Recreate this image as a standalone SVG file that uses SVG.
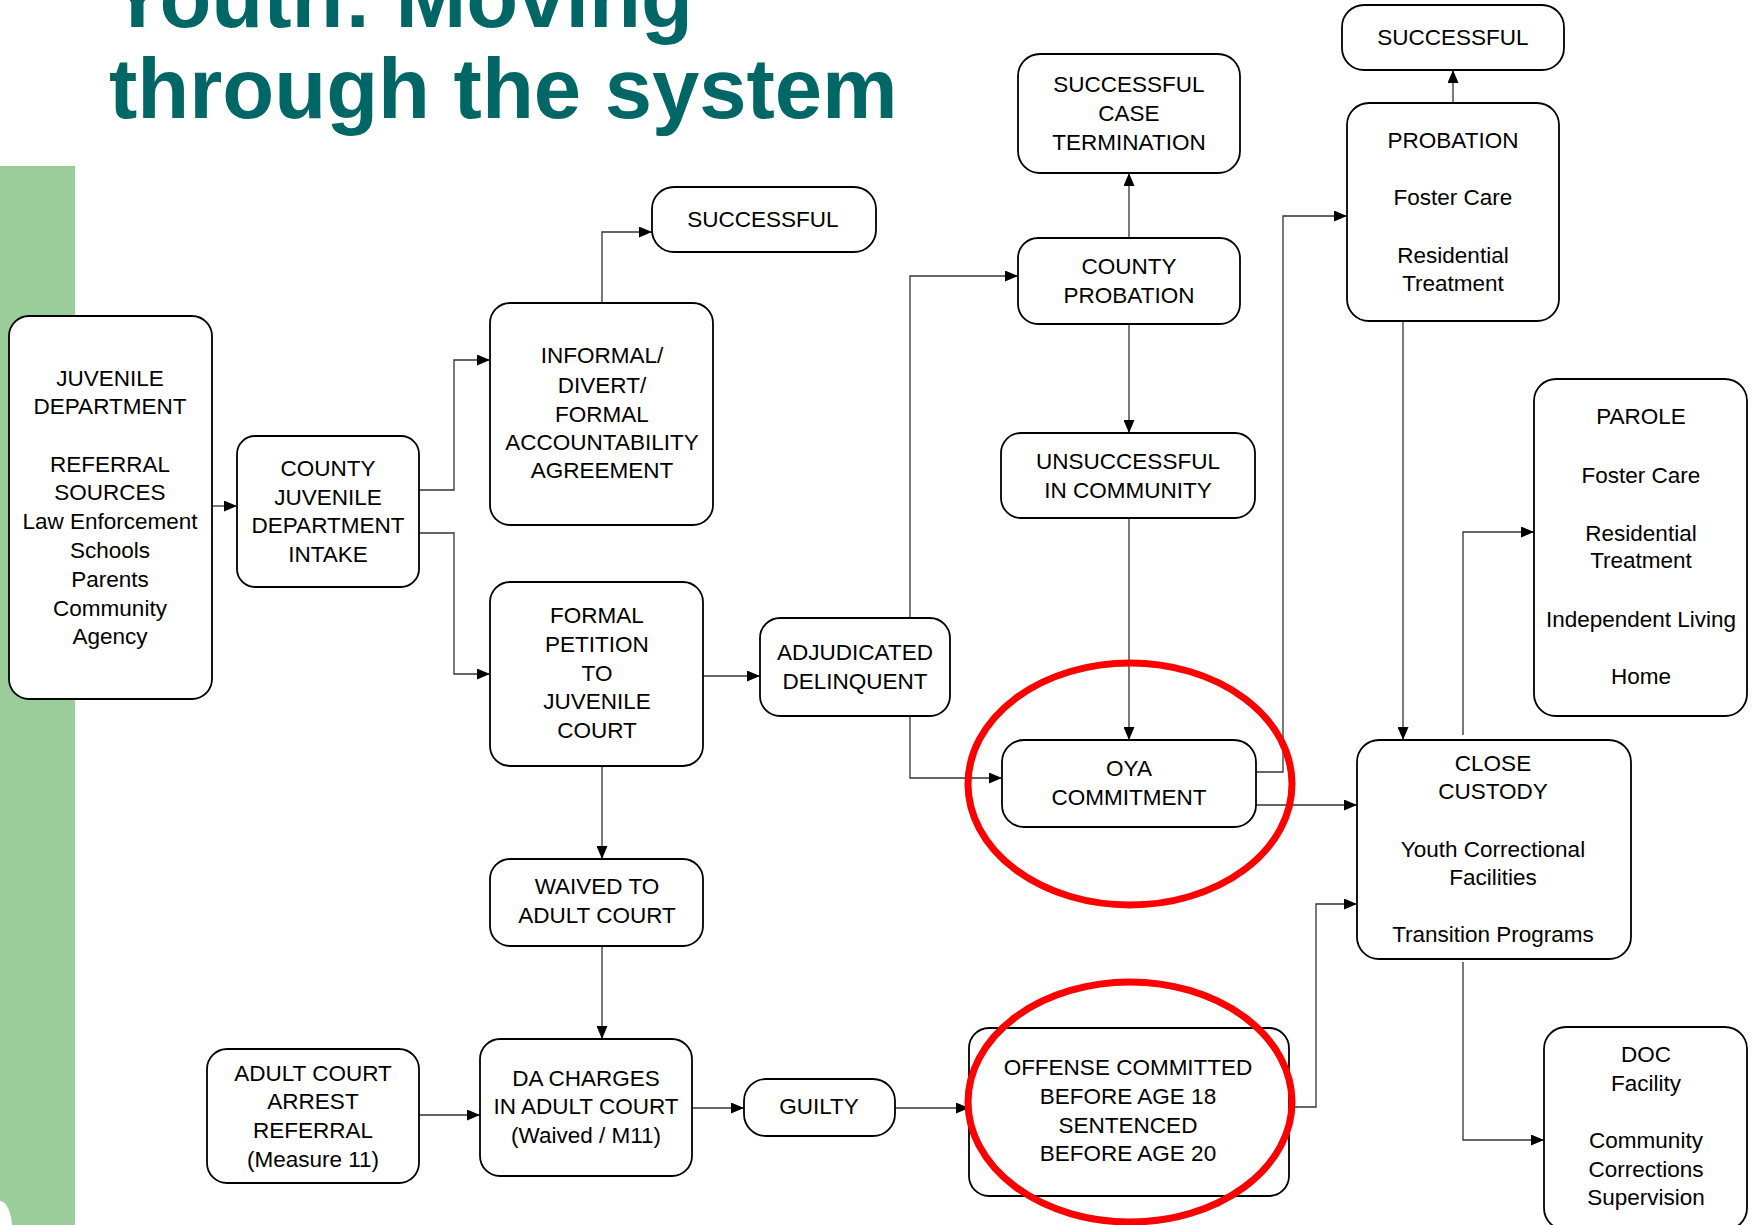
<svg xmlns="http://www.w3.org/2000/svg" width="1758" height="1225" viewBox="0 0 1758 1225">
<defs>
<style>
.box{fill:#fff;stroke:#000;stroke-width:1.8}
.t{font-family:"Liberation Sans",Arial,sans-serif;font-size:22.5px;fill:#000;text-anchor:middle}
.c{fill:none;stroke:#333;stroke-width:1.3}
.ring{fill:none;stroke:#f00;stroke-width:7}
.title{font-family:"Liberation Sans",Arial,sans-serif;font-weight:bold;font-size:85px;fill:#006666}
</style>
<marker id="ah" viewBox="0 0 13 11" refX="13" refY="5.5" markerWidth="13" markerHeight="11" markerUnits="userSpaceOnUse" orient="auto">
<path d="M0,0 L13,5.5 L0,11 z" fill="#000"/>
</marker>
</defs>
<rect width="1758" height="1225" fill="#fff"/>
<rect x="0" y="166" width="75" height="1059" fill="#9ACD99"/>
<ellipse cx="0" cy="1228" rx="12" ry="27" fill="#fff"/>
<g id="title">
<text class="title" x="109" y="27">Youth: Moving</text>
<text class="title" x="109" y="118">through the system</text>
</g>
<g id="connectors">
<path class="c" marker-end="url(#ah)" d="M212,506 H237"/>
<path class="c" marker-end="url(#ah)" d="M419,490 H454 V360 H490"/>
<path class="c" marker-end="url(#ah)" d="M419,533 H454 V674 H490"/>
<path class="c" marker-end="url(#ah)" d="M602,303 V232 H652"/>
<path class="c" marker-end="url(#ah)" d="M703,676 H760"/>
<path class="c" marker-end="url(#ah)" d="M602,766 V859"/>
<path class="c" marker-end="url(#ah)" d="M602,946 V1039"/>
<path class="c" marker-end="url(#ah)" d="M419,1115 H480"/>
<path class="c" marker-end="url(#ah)" d="M692,1108 H744"/>
<path class="c" marker-end="url(#ah)" d="M895,1108 H969"/>
<path class="c" marker-end="url(#ah)" d="M910,618 V276 H1018"/>
<path class="c" marker-end="url(#ah)" d="M910,716 V778 H1002"/>
<path class="c" marker-end="url(#ah)" d="M1129,238 V173"/>
<path class="c" marker-end="url(#ah)" d="M1129,324 V433"/>
<path class="c" marker-end="url(#ah)" d="M1129,518 V740"/>
<path class="c" marker-end="url(#ah)" d="M1256,772 H1283 V216 H1347"/>
<path class="c" marker-end="url(#ah)" d="M1256,805 H1357"/>
<path class="c" marker-end="url(#ah)" d="M1453,103 V70"/>
<path class="c" marker-end="url(#ah)" d="M1403,321 V740"/>
<path class="c" marker-end="url(#ah)" d="M1463,735 V532 H1534"/>
<path class="c" marker-end="url(#ah)" d="M1289,1107 H1316 V904 H1357"/>
<path class="c" marker-end="url(#ah)" d="M1463,962 V1140 H1544"/>
</g>
<g id="juvenile-department">
<rect class="box" x="9" y="316" width="203" height="383" rx="20"/>
<text class="t"><tspan x="110" y="386">JUVENILE</tspan><tspan x="110" y="414">DEPARTMENT</tspan><tspan x="110" y="472">REFERRAL</tspan><tspan x="110" y="500">SOURCES</tspan><tspan x="110" y="529">Law Enforcement</tspan><tspan x="110" y="558">Schools</tspan><tspan x="110" y="587">Parents</tspan><tspan x="110" y="616">Community</tspan><tspan x="110" y="644">Agency</tspan></text>
</g>
<g id="county-intake">
<rect class="box" x="237" y="436" width="182" height="151" rx="18"/>
<text class="t"><tspan x="328" y="476">COUNTY</tspan><tspan x="328" y="505">JUVENILE</tspan><tspan x="328" y="533">DEPARTMENT</tspan><tspan x="328" y="562">INTAKE</tspan></text>
</g>
<g id="informal">
<rect class="box" x="490" y="303" width="223" height="222" rx="20"/>
<text class="t"><tspan x="602" y="363">INFORMAL/</tspan><tspan x="602" y="393">DIVERT/</tspan><tspan x="602" y="422">FORMAL</tspan><tspan x="602" y="450">ACCOUNTABILITY</tspan><tspan x="602" y="478">AGREEMENT</tspan></text>
</g>
<g id="successful-1">
<rect class="box" x="652" y="187" width="224" height="65" rx="22"/>
<text class="t" x="763" y="227">SUCCESSFUL</text>
</g>
<g id="formal-petition">
<rect class="box" x="490" y="582" width="213" height="184" rx="20"/>
<text class="t"><tspan x="597" y="623">FORMAL</tspan><tspan x="597" y="652">PETITION</tspan><tspan x="597" y="681">TO</tspan><tspan x="597" y="709">JUVENILE</tspan><tspan x="597" y="738">COURT</tspan></text>
</g>
<g id="adjudicated">
<rect class="box" x="760" y="618" width="190" height="98" rx="20"/>
<text class="t"><tspan x="855" y="660">ADJUDICATED</tspan><tspan x="855" y="689">DELINQUENT</tspan></text>
</g>
<g id="waived">
<rect class="box" x="490" y="859" width="213" height="87" rx="20"/>
<text class="t"><tspan x="597" y="894">WAIVED TO</tspan><tspan x="597" y="923">ADULT COURT</tspan></text>
</g>
<g id="adult-court-arrest">
<rect class="box" x="207" y="1049" width="212" height="134" rx="20"/>
<text class="t"><tspan x="313" y="1081">ADULT COURT</tspan><tspan x="313" y="1109">ARREST</tspan><tspan x="313" y="1138">REFERRAL</tspan><tspan x="313" y="1167">(Measure 11)</tspan></text>
</g>
<g id="da-charges">
<rect class="box" x="480" y="1039" width="212" height="137" rx="20"/>
<text class="t"><tspan x="586" y="1086">DA CHARGES</tspan><tspan x="586" y="1114">IN ADULT COURT</tspan><tspan x="586" y="1143">(Waived / M11)</tspan></text>
</g>
<g id="guilty">
<rect class="box" x="744" y="1079" width="151" height="57" rx="22"/>
<text class="t" x="819" y="1114">GUILTY</text>
</g>
<g id="offense">
<rect class="box" x="969" y="1028" width="320" height="168" rx="20"/>
<text class="t"><tspan x="1128" y="1075">OFFENSE COMMITTED</tspan><tspan x="1128" y="1104">BEFORE AGE 18</tspan><tspan x="1128" y="1133">SENTENCED</tspan><tspan x="1128" y="1161">BEFORE AGE 20</tspan></text>
</g>
<g id="successful-case-termination">
<rect class="box" x="1018" y="54" width="222" height="119" rx="22"/>
<text class="t"><tspan x="1129" y="92">SUCCESSFUL</tspan><tspan x="1129" y="121">CASE</tspan><tspan x="1129" y="150">TERMINATION</tspan></text>
</g>
<g id="county-probation">
<rect class="box" x="1018" y="238" width="222" height="86" rx="20"/>
<text class="t"><tspan x="1129" y="274">COUNTY</tspan><tspan x="1129" y="303">PROBATION</tspan></text>
</g>
<g id="unsuccessful">
<rect class="box" x="1001" y="433" width="254" height="85" rx="20"/>
<text class="t"><tspan x="1128" y="469">UNSUCCESSFUL</tspan><tspan x="1128" y="498">IN COMMUNITY</tspan></text>
</g>
<g id="oya-commitment">
<rect class="box" x="1002" y="740" width="254" height="87" rx="22"/>
<text class="t"><tspan x="1129" y="776">OYA</tspan><tspan x="1129" y="805">COMMITMENT</tspan></text>
</g>
<g id="successful-2">
<rect class="box" x="1342" y="5" width="222" height="65" rx="22"/>
<text class="t" x="1453" y="45">SUCCESSFUL</text>
</g>
<g id="probation">
<rect class="box" x="1347" y="103" width="212" height="218" rx="22"/>
<text class="t"><tspan x="1453" y="148">PROBATION</tspan><tspan x="1453" y="205">Foster Care</tspan><tspan x="1453" y="263">Residential</tspan><tspan x="1453" y="291">Treatment</tspan></text>
</g>
<g id="parole">
<rect class="box" x="1534" y="379" width="213" height="337" rx="22"/>
<text class="t"><tspan x="1641" y="424">PAROLE</tspan><tspan x="1641" y="483">Foster Care</tspan><tspan x="1641" y="541">Residential</tspan><tspan x="1641" y="568">Treatment</tspan><tspan x="1641" y="627">Independent Living</tspan><tspan x="1641" y="684">Home</tspan></text>
</g>
<g id="close-custody">
<rect class="box" x="1357" y="740" width="274" height="219" rx="22"/>
<text class="t"><tspan x="1493" y="771">CLOSE</tspan><tspan x="1493" y="799">CUSTODY</tspan><tspan x="1493" y="857">Youth Correctional</tspan><tspan x="1493" y="885">Facilities</tspan><tspan x="1493" y="942">Transition Programs</tspan></text>
</g>
<g id="doc">
<rect class="box" x="1544" y="1027" width="203" height="203" rx="22"/>
<text class="t"><tspan x="1646" y="1062">DOC</tspan><tspan x="1646" y="1091">Facility</tspan><tspan x="1646" y="1148">Community</tspan><tspan x="1646" y="1177">Corrections</tspan><tspan x="1646" y="1205">Supervision</tspan></text>
</g>
<g id="highlights">
<ellipse class="ring" cx="1130" cy="784" rx="162" ry="121"/>
<ellipse class="ring" cx="1130" cy="1102" rx="162" ry="120"/>
</g>
</svg>
